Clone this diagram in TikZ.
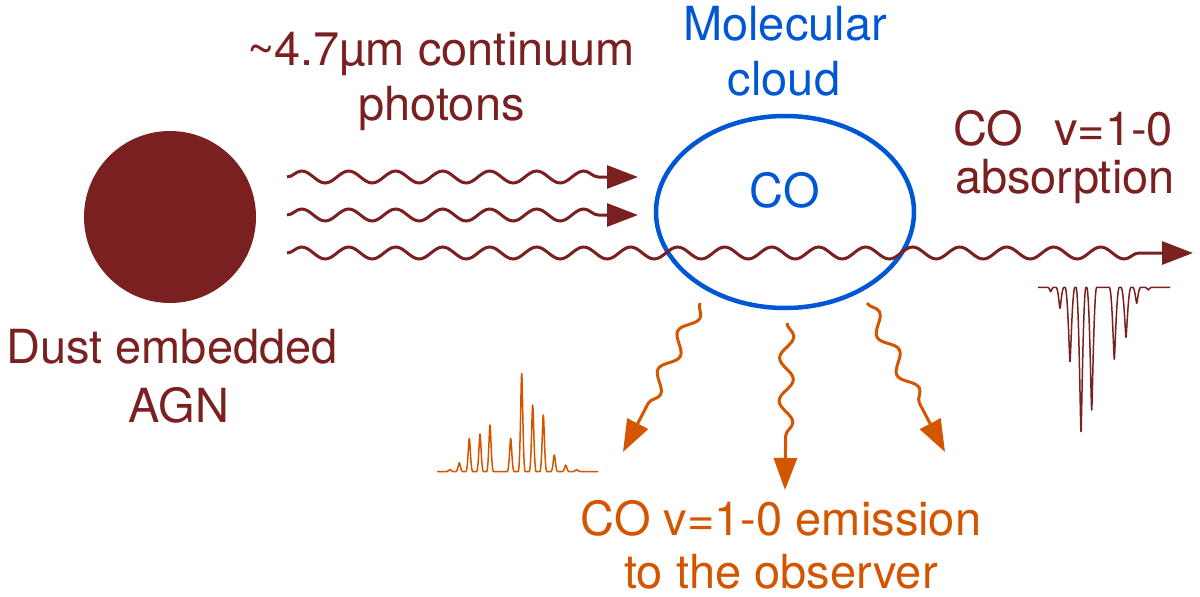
\documentclass[tikz,border=0pt]{standalone}
\usepackage{fontspec}
\setmainfont{TeX Gyre Heros}
\usetikzlibrary{arrows.meta,decorations.pathmorphing,shapes.geometric}
\definecolor{agnred}{HTML}{7A2020}
\definecolor{cloudblue}{HTML}{0057D6}
\definecolor{emorange}{HTML}{D45500}
\tikzset{
  lbl/.style={font=\fontsize{47}{56}\selectfont, inner sep=0pt, outer sep=0pt},
  photon/.style={agnred, line width=3pt, decorate,
    decoration={snake, amplitude=6pt, segment length=47pt, post length=36pt},
    -{Triangle[length=31pt,width=23pt]}},
  emphoton/.style={emorange, line width=3pt, decorate,
    decoration={snake, amplitude=7pt, segment length=43pt, post length=36pt},
    -{Triangle[length=32pt,width=23pt]}},
  specline/.style={line width=1.5pt, line join=round}
}
\begin{document}
\begin{tikzpicture}[x=1pt,y=-1pt]
\useasboundingbox (0,0) rectangle (1200,597);

% AGN
\node[circle, fill=agnred, minimum size=172pt, inner sep=0pt] (agn) at (170,217) {};
\node[lbl, text=agnred, anchor=base] (agnlblA) at (172,363) {Dust embedded};
\node[lbl, text=agnred, anchor=base] (agnlblB) at (179,422) {AGN};

% photons label
\node[lbl, text=agnred, anchor=base east] (photlblA) at (635,65) {\textasciitilde4.7µm continuum};
\node[lbl, text=agnred, anchor=base] (photlblB) at (441.5,120) {photons};

% molecular cloud
\node[draw=cloudblue, line width=4.5pt, ellipse, minimum width=258pt, minimum height=192pt, inner sep=0pt] (cloud) at (785,212) {};
\node[lbl, text=cloudblue, anchor=base] (cloudlblA) at (785,40) {Molecular};
\node[lbl, text=cloudblue, anchor=base] (cloudlblB) at (784,95) {cloud};
\node[lbl, text=cloudblue, anchor=base] (colbl) at (785,207) {CO};

% photon paths
\coordinate (pAs) at (287,177);
\coordinate (pAe) at (638,177);
\coordinate (pBs) at (287,215);
\coordinate (pBe) at (638,215);
\coordinate (pCs) at (287,253);
\coordinate (pCe) at (1193,253);
\draw[photon] (pAs) -- (pAe);
\draw[photon] (pBs) -- (pBe);
\draw[photon] (pCs) -- (pCe);

% absorption label
\node[lbl, text=agnred, anchor=base west] (abslblA) at (953,145) {CO\hspace{18pt} v=1-0};
\node[lbl, text=agnred, anchor=base west] (abslblB) at (955,193) {absorption};

% absorption spectrum
\draw[specline, agnred] (1038,287.3)
  \foreach \px/\d/\w in {1050.7/4.3/3, 1060/21/4, 1070/74.3/5, 1081/144.3/5, 1091.7/122.7/5, 1114.3/72/5, 1126/50/5, 1136.7/16/4, 1148.3/2.7/3} {
    -- (\px-\w,287.3) .. controls (\px-0.45*\w,287.3) and (\px-0.6,287.3+\d) .. (\px,287.3+\d)
    .. controls (\px+0.6,287.3+\d) and (\px+0.45*\w,287.3) .. (\px+\w,287.3)
  } -- (1170,287.3);

% emission photons
\coordinate (eAs) at (700,303);
\coordinate (eAe) at (623,452);
\coordinate (eBs) at (787,323);
\coordinate (eBe) at (785,490);
\coordinate (eCs) at (867,303);
\coordinate (eCe) at (945,452);
\draw[emphoton] (eAs) -- (eAe);
\draw[emphoton] (eBs) -- (eBe);
\draw[emphoton] (eCs) -- (eCe);

% emission spectrum
\draw[specline, emorange] (437,471.7)
  \foreach \px/\h in {450/2.3, 459.3/9, 469.3/33.3, 480/37.7, 490/46.7, 510.7/33.3, 521.7/98.3, 532.7/66.7, 543.3/56.7, 554.3/16.7, 565.7/6.7, 576.7/2.3} {
    -- (\px-3.5,471.7) .. controls (\px-1.4,471.7) and (\px-0.8,471.7-\h) .. (\px,471.7-\h)
    .. controls (\px+0.8,471.7-\h) and (\px+1.4,471.7) .. (\px+3.5,471.7)
  } -- (598,471.7);

% emission label
\node[lbl, text=emorange, anchor=base] (emlblA) at (781,535) {CO v=1-0 emission};
\node[lbl, text=emorange, anchor=base] (emlblB) at (781,588) {to the observer};
\end{tikzpicture}
\end{document}
